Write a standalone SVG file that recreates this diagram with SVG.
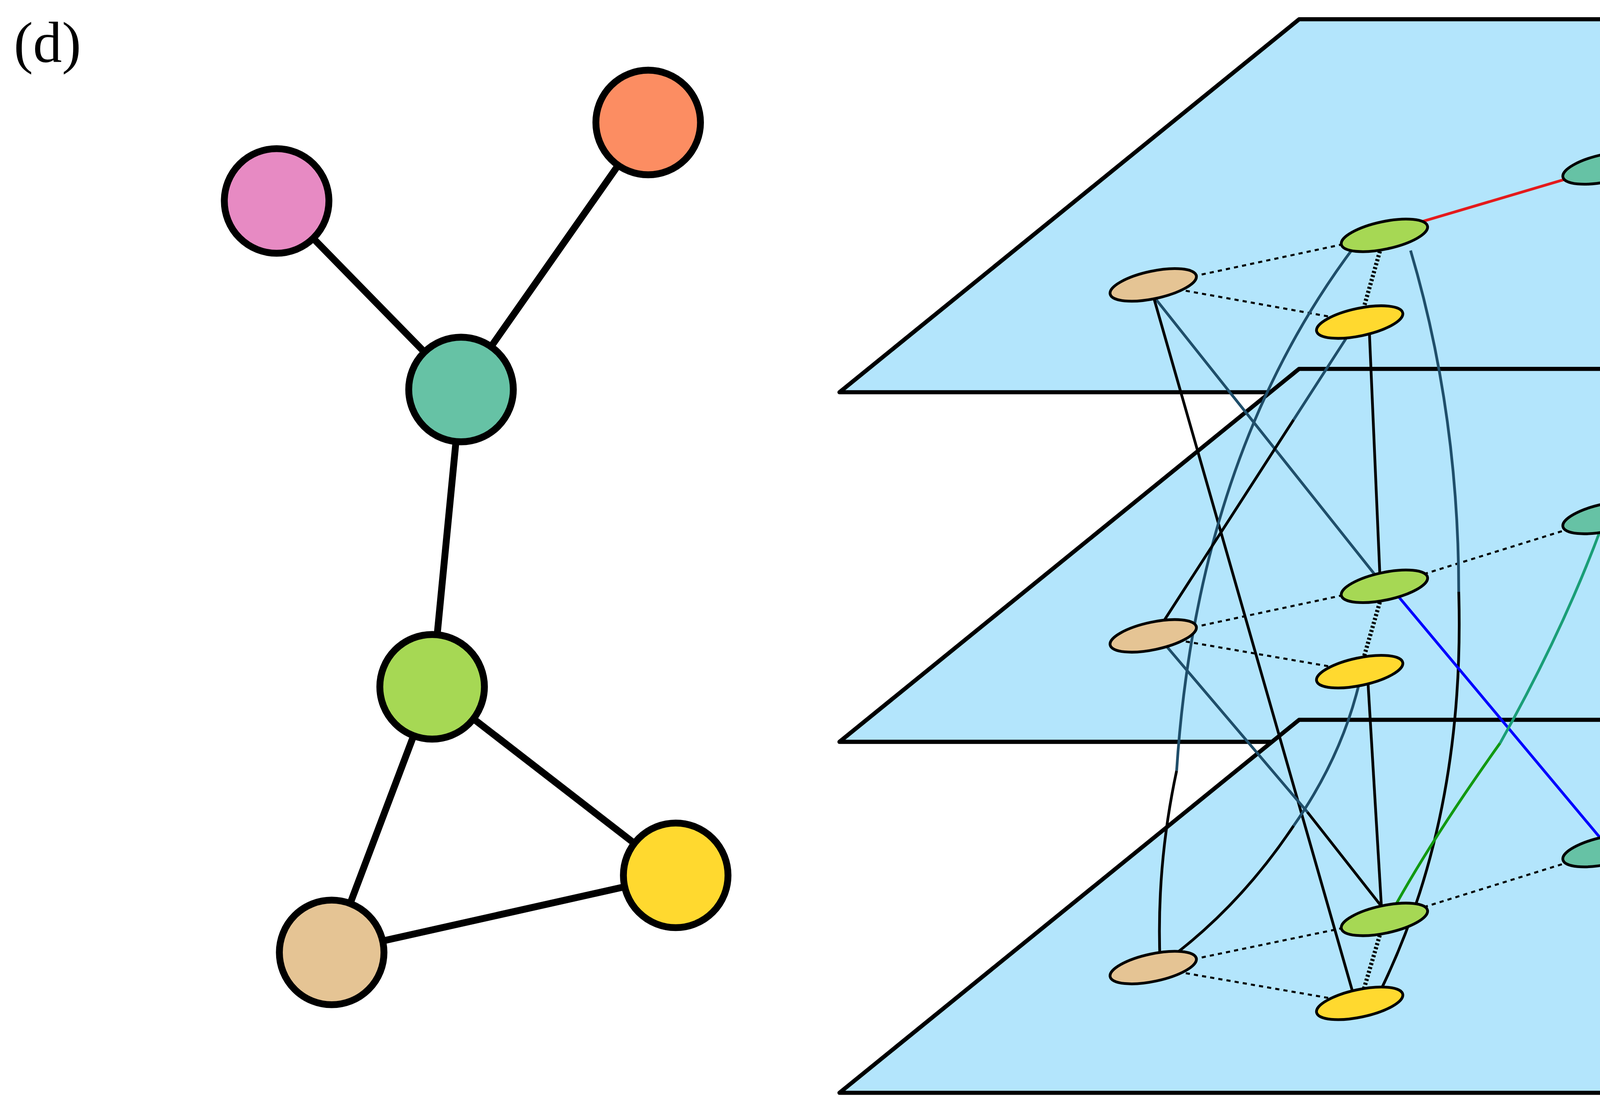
<svg xmlns="http://www.w3.org/2000/svg" width="5524" height="2808" viewBox="0 0 5524 2808">
<style>
.plane{fill:#b3e5fc;stroke:#000;stroke-width:3;stroke-linejoin:round}
.big{stroke:#000;stroke-width:5}
.e{stroke:#000;stroke-width:5}
.n{stroke:#000;stroke-width:2}
.dash{stroke:#000;stroke-width:1.5;stroke-dasharray:3,3;fill:none}
.dot{stroke:#000;stroke-width:3;stroke-dasharray:1.5,1.5;fill:none}
.l{fill:none;stroke-width:2}
.pink{fill:#e78ac3}.orange{fill:#fc8d62}.teal{fill:#66c2a5}.green{fill:#a6d854}.beige{fill:#e5c494}.yellow{fill:#ffd92f}
</style>
<rect width="5524" height="2808" fill="#fff"/>
<g transform="scale(3.523)">
<text x="10" y="45" font-family="Liberation Serif, serif" font-size="42">(d)</text>
<g id="left-edges">
<line class="e" x1="201" y1="146" x2="335" y2="283"/>
<line class="e" x1="471" y1="89" x2="335" y2="283"/>
<line class="e" x1="335" y1="283" x2="314" y2="499"/>
<line class="e" x1="314" y1="499" x2="241" y2="692"/>
<line class="e" x1="314" y1="499" x2="491" y2="636"/>
<line class="e" x1="241" y1="692" x2="491" y2="636"/>
</g>
<g id="L-pink"><circle class="big pink" cx="201" cy="146" r="38"/></g>
<g id="L-orange"><circle class="big orange" cx="471" cy="89" r="38"/></g>
<g id="L-teal"><circle class="big teal" cx="335" cy="283" r="38"/></g>
<g id="L-green"><circle class="big green" cx="314" cy="499" r="38"/></g>
<g id="L-beige"><circle class="big beige" cx="241" cy="692" r="38"/></g>
<g id="L-yellow"><circle class="big yellow" cx="491" cy="636" r="38"/></g>

<g id="planes">
<polygon class="plane" points="610,285 944,14 1550,14 1216,285"/>
<polygon class="plane" points="610,539 944,268 1550,268 1216,539"/>
<polygon class="plane" points="610,794 944,523 1550,523 1216,794"/>
</g>
<g id="intra">
<line class="dash" x1="838" y1="207" x2="1006" y2="171"/><line class="dash" x1="838" y1="207" x2="988" y2="234"/>
<line class="dash" x1="1167" y1="122" x2="1364" y2="97"/><line class="dot" x1="1006" y1="171" x2="988" y2="234"/><line class="dot" x1="1205" y1="67" x2="1167" y2="122"/>
<line class="dash" x1="838" y1="462" x2="1006" y2="426"/><line class="dash" x1="838" y1="462" x2="988" y2="488"/>
<line class="dash" x1="1167" y1="376" x2="1362" y2="350"/><line class="dash" x1="1006" y1="426" x2="1167" y2="376"/><line class="dot" x1="1006" y1="426" x2="988" y2="488"/><line class="dot" x1="1203" y1="321" x2="1167" y2="376"/>
<line class="dash" x1="838" y1="703" x2="1006" y2="668"/><line class="dash" x1="838" y1="703" x2="988" y2="729"/>
<line class="dash" x1="1167" y1="618" x2="1364" y2="592"/><line class="dash" x1="1006" y1="668" x2="1167" y2="618"/><line class="dot" x1="1006" y1="668" x2="988" y2="729"/>
</g>
<g id="connectors">
<line class="l" stroke="#e41a1c" stroke-width="1.5" x1="1030" y1="162" x2="1145" y2="128"/>
<line class="l" stroke="#b5445a" x1="1170" y1="130" x2="1198" y2="315"/>
<line class="l" stroke="#b5445a" x1="1175" y1="130" x2="1268" y2="237"/>
<line class="l" stroke="#e41a1c" x1="1268" y1="237" x2="1355" y2="345"/>
<path class="l" stroke="#1a9e77" d="M1213,77 Q1255,220 1215,285"/>
<path class="l" stroke="#119911" d="M1215,285 Q1200,340 1170,378"/>
<path class="l" stroke="#0000ff" d="M1364,107 Q1370,480 1168,615"/>
<line class="l" stroke="#1f4e6a" x1="838" y1="215" x2="1005" y2="425"/>
<line class="l" stroke="#000" x1="838" y1="215" x2="985" y2="728"/>
<path class="l" stroke="#1f4e6a" d="M985,178 Q870,330 855,560"/>
<path class="l" stroke="#000" d="M855,560 Q840,630 843,700"/>
<line class="l" stroke="#000" x1="995" y1="240" x2="1003" y2="425"/>
<path class="l" stroke="#1f4e6a" d="M1025,182 Q1060,300 1060,430"/>
<path class="l" stroke="#000" d="M1060,430 Q1065,600 998,730"/>
<line class="l" stroke="#1f4e6a" x1="980" y1="243" x2="940" y2="305"/>
<line class="l" stroke="#000" x1="940" y1="305" x2="840" y2="460"/>
<line class="l" stroke="#0000ff" x1="1015" y1="432" x2="1168" y2="615"/>
<line class="l" stroke="#1a9e77" x1="1180" y1="385" x2="1275" y2="490"/>
<line class="l" stroke="#119911" x1="1275" y1="490" x2="1365" y2="588"/>
<path class="l" stroke="#1a9e77" d="M1163,385 Q1135,460 1090,540"/>
<path class="l" stroke="#119911" d="M1090,540 Q1040,610 1010,665"/>
<line class="l" stroke="#1f4e6a" x1="848" y1="470" x2="950" y2="590"/>
<line class="l" stroke="#000" x1="950" y1="590" x2="1005" y2="660"/>
<path class="l" stroke="#1f4e6a" d="M988,495 Q975,550 940,600"/>
<path class="l" stroke="#000" d="M940,600 Q900,660 845,700"/>
<line class="l" stroke="#000" x1="994" y1="495" x2="1004" y2="662"/>
<line class="l" stroke="#0000ff" stroke-width="4" x1="1195" y1="570" x2="1172" y2="610"/>
</g>
<g id="T-pink"><ellipse class="n pink" cx="1205" cy="67" rx="32" ry="10" transform="rotate(-12 1205 67)"/></g>
<g id="T-orange"><ellipse class="n orange" cx="1364" cy="97" rx="32" ry="10" transform="rotate(-12 1364 97)"/></g>
<g id="T-teal"><ellipse class="n teal" cx="1167" cy="122" rx="32" ry="10" transform="rotate(-12 1167 122)"/></g>
<g id="T-green"><ellipse class="n green" cx="1006" cy="171" rx="32" ry="10" transform="rotate(-12 1006 171)"/></g>
<g id="T-beige"><ellipse class="n beige" cx="838" cy="207" rx="32" ry="10" transform="rotate(-12 838 207)"/></g>
<g id="T-yellow"><ellipse class="n yellow" cx="988" cy="234" rx="32" ry="10" transform="rotate(-12 988 234)"/></g>
<g id="M-pink"><ellipse class="n pink" cx="1203" cy="321" rx="32" ry="10" transform="rotate(-12 1203 321)"/></g>
<g id="M-orange"><ellipse class="n orange" cx="1362" cy="350" rx="32" ry="10" transform="rotate(-12 1362 350)"/></g>
<g id="M-teal"><ellipse class="n teal" cx="1167" cy="376" rx="32" ry="10" transform="rotate(-12 1167 376)"/></g>
<g id="M-green"><ellipse class="n green" cx="1006" cy="426" rx="32" ry="10" transform="rotate(-12 1006 426)"/></g>
<g id="M-beige"><ellipse class="n beige" cx="838" cy="462" rx="32" ry="10" transform="rotate(-12 838 462)"/></g>
<g id="M-yellow"><ellipse class="n yellow" cx="988" cy="488" rx="32" ry="10" transform="rotate(-12 988 488)"/></g>
<g id="B-pink"><ellipse class="n pink" cx="1204" cy="563" rx="32" ry="10" transform="rotate(-12 1204 563)"/></g>
<g id="B-orange"><ellipse class="n orange" cx="1364" cy="592" rx="32" ry="10" transform="rotate(-12 1364 592)"/></g>
<g id="B-teal"><ellipse class="n teal" cx="1167" cy="618" rx="32" ry="10" transform="rotate(-12 1167 618)"/></g>
<g id="B-green"><ellipse class="n green" cx="1006" cy="668" rx="32" ry="10" transform="rotate(-12 1006 668)"/></g>
<g id="B-beige"><ellipse class="n beige" cx="838" cy="703" rx="32" ry="10" transform="rotate(-12 838 703)"/></g>
<g id="B-yellow"><ellipse class="n yellow" cx="988" cy="729" rx="32" ry="10" transform="rotate(-12 988 729)"/></g>
</g>
</svg>
